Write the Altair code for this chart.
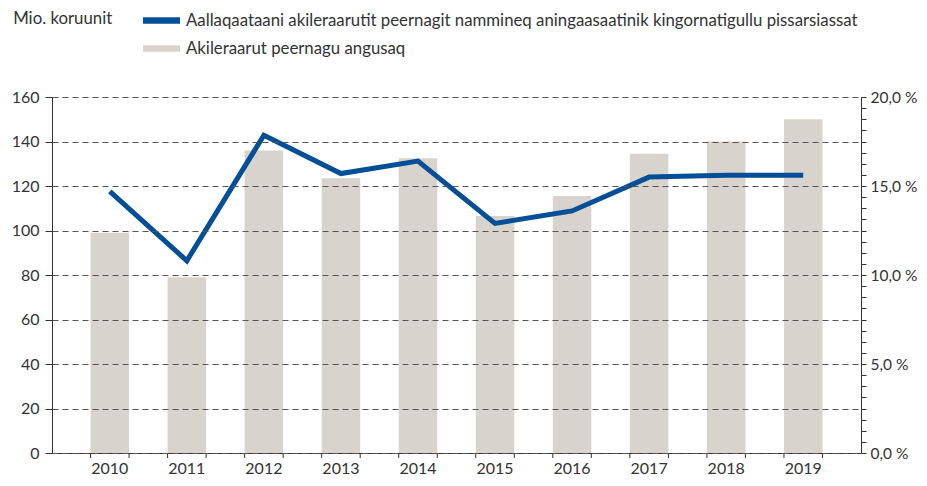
import altair as alt
import pandas as pd

years = ["2010", "2011", "2012", "2013", "2014", "2015", "2016", "2017", "2018", "2019"]
profit = [99, 79, 136, 123.5, 132.5, 106.5, 115.5, 134.5, 140, 150]
share = [14.7, 10.8, 17.85, 15.7, 16.4, 12.9, 13.6, 15.5, 15.6, 15.6]

line_label = "Aallaqaataani akileraarutit peernagit nammineq aningaasaatinik kingornatigullu pissarsiassat"
bar_label = "Akileraarut peernagu angusaq"
unit_label = "Mio. koruunit"

BLUE = "#034f97"
GREY = "#d9d3cd"
FONT = "Lato"
TXT = "#333333"

bars_df = pd.DataFrame({"year": years, "value": profit, "series": bar_label})
line_df = pd.DataFrame({"year": years, "value": share, "series": line_label})
ticks_df = pd.DataFrame({"year": years})

W, H = 809, 356

color = alt.Color(
    "series:N",
    scale=alt.Scale(domain=[line_label, bar_label], range=[BLUE, GREY]),
    legend=alt.Legend(
        title=None,
        orient="none",
        legendX=91,
        legendY=-95,
        direction="vertical",
        symbolType="M-1,-0.17H1V0.17H-1Z",
        symbolSize=1369,
        symbolStrokeWidth=0,
        symbolOpacity=1,
        labelFont=FONT,
        labelFontSize=16.8,
        labelColor=TXT,
        labelOffset=6,
        labelLimit=800,
        rowPadding=-8,
        padding=0,
    ),
)

xenc = alt.X(
    "year:N",
    sort=years,
    scale=alt.Scale(paddingInner=0.5, paddingOuter=0.5),
    axis=alt.Axis(
        title=None, labelAngle=0, ticks=False, domainColor=TXT, domainWidth=1,
        labelFont=FONT, labelFontSize=16, labelColor=TXT, labelPadding=7,
    ),
)

bars = alt.Chart(bars_df).mark_bar(color=GREY).encode(
    x=xenc,
    y=alt.Y(
        "value:Q",
        scale=alt.Scale(domain=[0, 160], nice=False),
        axis=alt.Axis(
            title=None, values=list(range(0, 161, 20)), grid=True,
            gridDash=[6, 4], gridColor="#555555", gridWidth=1,
            tickSize=7, tickColor=TXT, domainColor=TXT,
            labelFont=FONT, labelFontSize=16, labelColor=TXT, labelPadding=6,
            zindex=1,
        ),
    ),
    color=color,
)

right_vals = [i * 0.625 for i in range(33)]
line = alt.Chart(line_df).mark_line(strokeWidth=5, strokeCap="butt", strokeJoin="miter").encode(
    x=alt.X("year:N", sort=years),
    y=alt.Y(
        "value:Q",
        scale=alt.Scale(domain=[0, 20], nice=False),
        axis=alt.Axis(
            title=None, orient="right", values=right_vals, grid=False,
            tickSize=5, tickColor=TXT, domainColor=TXT,
            labelExpr="datum.value % 5 == 0 ? replace(format(datum.value, '.1f'), '.', ',') + ' %' : ''",
            labelFont=FONT, labelFontSize=15.5, labelColor=TXT, labelPadding=4,
        ),
    ),
    color=color,
)

tick_l = alt.Chart(ticks_df).mark_rule(color=TXT, strokeWidth=1).encode(
    x=alt.X("year:N", sort=years, bandPosition=0),
    y=alt.value(H),
    y2=alt.value(H + 5),
)
tick_r = alt.Chart(ticks_df).mark_rule(color=TXT, strokeWidth=1).encode(
    x=alt.X("year:N", sort=years, bandPosition=1),
    y=alt.value(H),
    y2=alt.value(H + 5),
)

chart = (
    alt.layer(bars, line, tick_l, tick_r)
    .resolve_scale(y="independent")
    .properties(
        width=W,
        height=H,
        autosize=alt.AutoSizeParams(type="none"),
        padding={"left": 44, "top": 89, "right": 58, "bottom": 23},
        title=alt.TitleParams(
            unit_label, anchor="start", dx=2, dy=30, font=FONT, fontSize=16.8,
            fontWeight="normal", color=TXT,
        ),
    )
    .configure_view(stroke=None)
)

chart.save("out.html", embed_options={"renderer": "svg", "actions": False})
